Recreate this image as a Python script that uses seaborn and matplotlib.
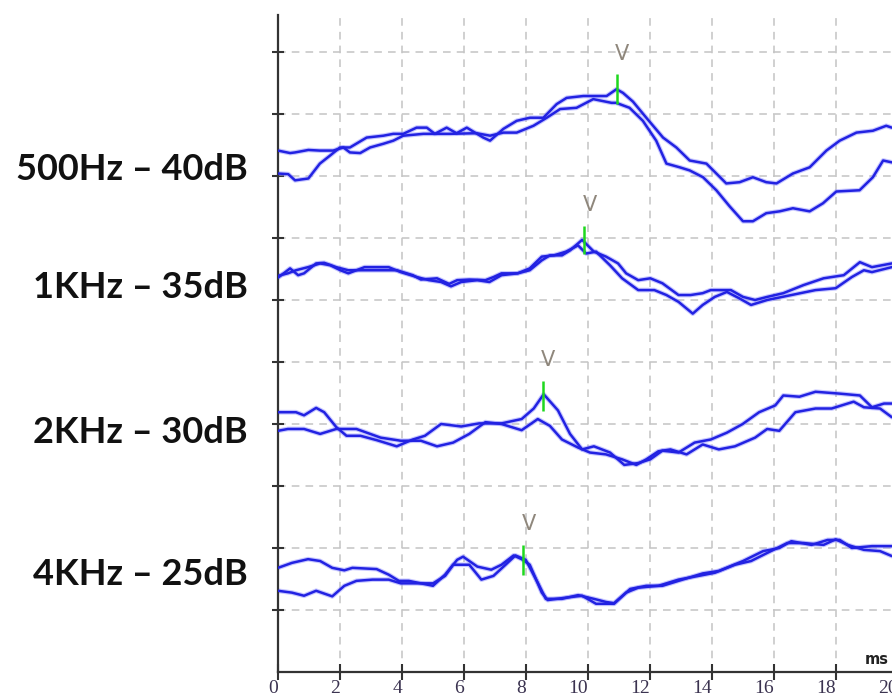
import numpy as np
import pandas as pd
import matplotlib
matplotlib.use("Agg")
import matplotlib.pyplot as plt
import seaborn as sns

# ---- ABR recordings: latency (ms) and trace level (grid divisions) ----
# 500 Hz - 40 dB, two replicate sweeps
t_500_a = [0.0, 0.39, 0.55, 0.98, 1.35, 1.78, 2.11, 2.32, 2.65, 2.97, 3.40, 3.72, 4.04, 4.69,
           5.55, 6.41, 6.84, 7.27, 7.70, 8.24, 8.67, 9.10, 9.63, 10.17, 10.76, 10.91, 11.34,
           11.77, 12.20, 12.53, 12.96, 13.28, 13.71, 14.14, 14.57, 15.0, 15.32, 15.75, 16.18,
           16.61, 17.15, 17.58, 18.01, 18.76, 19.19, 19.52, 19.80]
v_500_a = [8.41, 8.37, 8.38, 8.42, 8.41, 8.41, 8.46, 8.38, 8.37, 8.46, 8.52, 8.57, 8.65, 8.68,
           8.68, 8.69, 8.65, 8.70, 8.70, 8.81, 8.94, 9.08, 9.10, 9.24, 9.18, 9.18, 9.10,
           8.89, 8.57, 8.20, 8.14, 8.09, 7.98, 7.77, 7.51, 7.27, 7.27, 7.40, 7.43,
           7.48, 7.43, 7.56, 7.75, 7.77, 7.98, 8.25, 8.22]
t_500_b = [0.0, 0.33, 0.55, 0.98, 1.35, 1.68, 2.0, 2.32, 2.86, 3.40, 3.72, 4.04, 4.47, 4.80,
           5.06, 5.44, 5.76, 6.09, 6.62, 6.84, 7.27, 7.70, 8.13, 8.56, 8.99, 9.31, 9.85, 10.60,
           10.92, 11.13, 11.45, 11.88, 12.42, 12.85, 13.28, 13.82, 14.14, 14.46, 14.89, 15.32,
           15.75, 16.08, 16.61, 17.15, 17.69, 18.12, 18.66, 19.19, 19.62, 19.80]
v_500_b = [8.04, 8.03, 7.93, 7.96, 8.20, 8.33, 8.46, 8.46, 8.62, 8.65, 8.68, 8.68, 8.78, 8.78,
           8.68, 8.78, 8.69, 8.78, 8.62, 8.57, 8.76, 8.89, 8.94, 8.94, 9.16, 9.26, 9.29, 9.29,
           9.40, 9.34, 9.20, 8.94, 8.62, 8.46, 8.25, 8.20, 8.04, 7.88, 7.90, 7.98,
           7.90, 7.88, 8.04, 8.14, 8.41, 8.57, 8.70, 8.73, 8.81, 8.78]

# 1 kHz - 35 dB
t_1k_a = [0.0, 0.39, 0.65, 0.84, 1.23, 1.49, 1.88, 2.27, 2.79, 3.57, 3.83, 4.35, 4.61, 5.13,
          5.52, 5.78, 6.17, 6.69, 6.95, 7.21, 7.73, 8.12, 8.51, 8.77, 9.16, 9.42, 9.81, 10.19,
          10.58, 10.97, 11.23, 11.62, 12.01, 12.40, 12.92, 13.31, 13.70, 13.96, 14.61, 15.0,
          15.39, 15.78, 16.30, 16.95, 17.60, 18.25, 18.77, 19.16, 19.80]
v_1k_a = [6.36, 6.51, 6.40, 6.43, 6.59, 6.60, 6.53, 6.48, 6.48, 6.48, 6.48, 6.40, 6.33, 6.35,
          6.26, 6.32, 6.33, 6.32, 6.37, 6.43, 6.43, 6.48, 6.64, 6.72, 6.72, 6.80, 6.97, 6.78,
          6.70, 6.59, 6.43, 6.32, 6.35, 6.27, 6.08, 6.08, 6.11, 6.16, 6.16, 6.05,
          6.00, 6.05, 6.11, 6.24, 6.35, 6.40, 6.61, 6.53, 6.59]
t_1k_b = [0.0, 0.32, 0.58, 0.97, 1.36, 1.69, 2.01, 2.27, 2.79, 3.57, 3.96, 4.48, 4.87, 5.26,
          5.58, 5.91, 6.43, 6.82, 7.21, 7.73, 8.12, 8.51, 8.90, 9.29, 9.68, 9.94, 10.26, 10.71,
          11.10, 11.62, 12.14, 12.53, 12.92, 13.38, 13.70, 14.09, 14.48, 14.87, 15.26, 15.78,
          16.56, 17.34, 17.99, 18.51, 18.90, 19.16, 19.80]
v_1k_b = [6.39, 6.43, 6.48, 6.53, 6.59, 6.56, 6.48, 6.43, 6.53, 6.53, 6.45, 6.37, 6.32, 6.29,
          6.22, 6.29, 6.32, 6.29, 6.40, 6.43, 6.51, 6.70, 6.72, 6.78, 6.88, 6.75, 6.78, 6.56,
          6.35, 6.16, 6.16, 6.08, 5.97, 5.78, 5.92, 6.05, 6.13, 6.03, 5.92, 6.00,
          6.08, 6.16, 6.19, 6.37, 6.48, 6.45, 6.53]

# 2 kHz - 30 dB
t_2k_a = [0.0, 0.58, 0.84, 1.23, 1.49, 1.88, 2.21, 2.66, 3.18, 3.83, 4.35, 4.74, 5.26, 5.91,
          6.49, 7.21, 7.86, 8.25, 8.57, 9.03, 9.42, 9.81, 10.19, 10.71, 11.17, 11.62, 12.01,
          12.40, 12.92, 13.44, 13.96, 14.48, 14.99, 15.52, 16.04, 16.30, 16.82, 17.34, 18.12,
          18.77, 19.16, 19.55, 19.80]
v_2k_a = [4.19, 4.19, 4.14, 4.26, 4.19, 3.95, 3.81, 3.81, 3.74, 3.64, 3.75, 3.81, 4.00, 3.96,
          4.01, 4.01, 4.08, 4.25, 4.48, 4.22, 3.84, 3.59, 3.64, 3.54, 3.34, 3.37, 3.43,
          3.57, 3.54, 3.70, 3.75, 3.86, 4.00, 4.19, 4.30, 4.46, 4.44, 4.52, 4.49,
          4.46, 4.27, 4.33, 4.33]
t_2k_b = [0.0, 0.32, 0.84, 1.36, 1.88, 2.53, 3.31, 3.96, 4.61, 5.13, 5.65, 6.17, 6.69, 7.21,
          7.86, 8.38, 8.77, 9.16, 9.68, 10.06, 10.58, 11.10, 11.56, 11.88, 12.27, 12.66, 13.18,
          13.70, 14.22, 14.74, 15.39, 15.78, 16.17, 16.69, 17.34, 17.86, 18.57, 18.90, 19.42,
          19.80]
v_2k_b = [3.89, 3.92, 3.92, 3.84, 3.92, 3.92, 3.78, 3.73, 3.73, 3.64, 3.70, 3.84, 4.03, 4.00,
          3.90, 4.08, 3.97, 3.75, 3.62, 3.54, 3.51, 3.43, 3.34, 3.43, 3.56, 3.59, 3.51,
          3.67, 3.59, 3.64, 3.78, 3.92, 3.89, 4.19, 4.25, 4.25, 4.36, 4.27, 4.25,
          4.11]

# 4 kHz - 25 dB
t_4k_a = [0.0, 0.45, 0.97, 1.36, 1.75, 2.14, 2.40, 3.18, 3.57, 3.90, 4.22, 4.61, 5.00, 5.39,
          5.78, 5.97, 6.43, 6.88, 7.21, 7.60, 7.86, 8.12, 8.51, 8.70, 9.29, 9.81, 10.26, 10.84,
          11.36, 11.88, 12.40, 13.05, 13.70, 14.22, 15.00, 15.65, 16.17, 16.56, 17.21, 17.73,
          18.12, 18.51, 19.16, 19.80]
v_4k_a = [1.68, 1.76, 1.82, 1.79, 1.68, 1.64, 1.68, 1.66, 1.57, 1.47, 1.47, 1.43, 1.39, 1.57,
          1.81, 1.86, 1.70, 1.65, 1.73, 1.88, 1.82, 1.73, 1.28, 1.16, 1.20, 1.23, 1.10, 1.10,
          1.34, 1.39, 1.39, 1.49, 1.59, 1.63, 1.79, 1.95, 2.00, 2.11, 2.05, 2.13,
          2.13, 2.00, 2.03, 2.03]
t_4k_b = [0.0, 0.45, 0.84, 1.23, 1.75, 2.14, 2.53, 3.05, 3.57, 3.96, 4.61, 5.00, 5.39, 5.65,
          6.17, 6.56, 6.95, 7.34, 7.66, 7.99, 8.38, 8.64, 9.16, 9.68, 10.19, 10.58, 10.84,
          11.23, 11.62, 12.27, 12.92, 13.57, 14.09, 14.74, 15.26, 15.78, 16.43, 16.95, 17.60,
          17.99, 18.38, 18.90, 19.42, 19.80]
v_4k_b = [1.31, 1.28, 1.23, 1.31, 1.22, 1.39, 1.47, 1.49, 1.49, 1.43, 1.43, 1.43, 1.55, 1.73,
          1.73, 1.49, 1.55, 1.73, 1.88, 1.81, 1.44, 1.18, 1.18, 1.24, 1.18, 1.13, 1.11,
          1.28, 1.36, 1.39, 1.49, 1.55, 1.60, 1.73, 1.79, 1.92, 2.08, 2.08, 2.05,
          2.14, 2.05, 1.97, 1.95, 1.87]

# Stimulus labels and their baselines
conditions = ["500Hz \u2013 40dB", "1KHz \u2013 35dB", "2KHz \u2013 30dB", "4KHz \u2013 25dB"]
label_level = [7.94, 6.04, 3.70, 1.40]

# Wave V latency markers: latency, marker span, label level
wave_v_ms = [10.93, 9.87, 8.55, 7.90]
wave_v_lo = [9.16, 6.75, 4.21, 1.57]
wave_v_hi = [9.64, 7.20, 4.70, 2.05]
wave_v_text_ms = [11.08, 10.06, 8.70, 8.09]
wave_v_text_lvl = [9.97, 7.53, 5.04, 2.38]

x_ticks = list(range(0, 21, 2))
y_ticks = list(range(1, 11))

traces = [
    (conditions[0], "a", t_500_a, v_500_a), (conditions[0], "b", t_500_b, v_500_b),
    (conditions[1], "a", t_1k_a, v_1k_a), (conditions[1], "b", t_1k_b, v_1k_b),
    (conditions[2], "a", t_2k_a, v_2k_a), (conditions[2], "b", t_2k_b, v_2k_b),
    (conditions[3], "a", t_4k_a, v_4k_a), (conditions[3], "b", t_4k_b, v_4k_b),
]
df = pd.concat(
    [pd.DataFrame({"ms": t, "level": v, "cond": c, "sweep": s, "trace": f"{c} {s}"})
     for c, s, t, v in traces],
    ignore_index=True,
)

sns.set_theme(style="white")
plt.rcParams["font.family"] = ["DejaVu Sans"]

W, H = 892, 695
fig = plt.figure(figsize=(W / 100, H / 100), dpi=100)
x0_px, y0_px, px_per_ms, px_per_div = 278, 672, 31.0, 62.0
xmax, ymax = 20.5, 10.6
ax = fig.add_axes([x0_px / W, 1 - y0_px / H, xmax * px_per_ms / W, ymax * px_per_div / H])
ax.set_xlim(0, xmax)
ax.set_ylim(0, ymax)

# dashed grid
grid_kw = dict(color="#c4c4c4", lw=1.1, ls=(0, (5, 4)), zorder=0)
for x in x_ticks[1:]:
    ax.axvline(x, **grid_kw)
for y in y_ticks:
    ax.axhline(y, **grid_kw)

# waveforms (light halo under a solid blue stroke)
halo_pal = {tr: "#9a9aff" for tr in df["trace"].unique()}
line_pal = {tr: "#2222e2" for tr in df["trace"].unique()}
sns.lineplot(data=df, x="ms", y="level", hue="trace", palette=halo_pal, units="trace",
             estimator=None, sort=False, lw=3.4, alpha=0.55, legend=False, ax=ax, zorder=2)
sns.lineplot(data=df, x="ms", y="level", hue="trace", palette=line_pal, units="trace",
             estimator=None, sort=False, lw=1.8, legend=False, ax=ax, zorder=3)

# wave V markers
ax.vlines(wave_v_ms, wave_v_lo, wave_v_hi, color="#1ed81e", lw=1.8, zorder=4)
for xm, ym in zip(wave_v_text_ms, wave_v_text_lvl):
    ax.text(xm, ym, "V", ha="center", va="center", fontsize=15, color="#8f877c",
            family="DejaVu Sans", zorder=5)

# stimulus labels left of the axis
for lab, lvl in zip(conditions, label_level):
    ax.text(-0.97, lvl, lab, ha="right", va="baseline", fontsize=26, fontweight="bold",
            family="Lato", color="#111111", clip_on=False)

# axes
for side in ("top", "right"):
    ax.spines[side].set_visible(False)
for side in ("left", "bottom"):
    ax.spines[side].set_color("#333333")
    ax.spines[side].set_linewidth(1.6)
ax.set_xticks(x_ticks)
ax.set_xticklabels([str(v) for v in x_ticks])
ax.set_yticks(y_ticks)
ax.set_yticklabels([])
ax.tick_params(axis="y", direction="inout", length=8, width=1.5, color="#333333", left=True)
ax.tick_params(axis="x", direction="inout", length=11, width=1.5, color="#333333",
               bottom=True, pad=0, labelsize=14, labelcolor="#3b3350")
for lbl in ax.get_xticklabels():
    lbl.set_ha("right")
    lbl.set_family("Liberation Serif")
ax.set_xlabel("")
ax.set_ylabel("")
ax.text(18.94, 0.08, "ms", ha="left", va="bottom", fontsize=10.5, fontweight="bold",
        color="#222222", family="DejaVu Sans")

fig.savefig("out.png", dpi=100)
